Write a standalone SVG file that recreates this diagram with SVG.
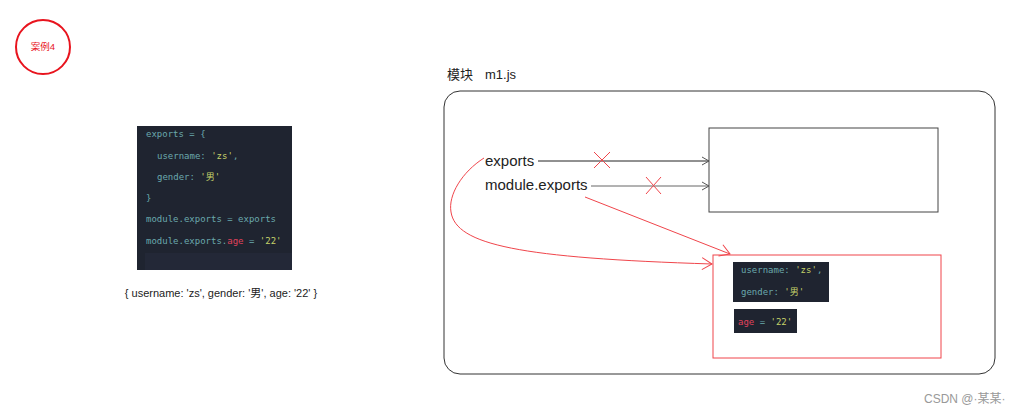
<svg xmlns="http://www.w3.org/2000/svg" width="1024" height="415" viewBox="0 0 1024 415">
<style>
.sans{font-family:"Microsoft YaHei","Liberation Sans","Noto Sans CJK SC",sans-serif}
.code{font-family:"DejaVu Sans Mono","Liberation Mono","Noto Sans CJK SC",monospace;font-size:9px;fill:#6aa9ad}
.str{fill:#c5d36a}
.kw{fill:#e0425c}
.red{stroke:#f0454b;fill:none;stroke-width:1}
</style>
<defs>
<marker id="ah" markerWidth="10" markerHeight="10" refX="9" refY="5" orient="auto" markerUnits="userSpaceOnUse">
<path d="M2,1 L9,5 L2,9" fill="none" stroke="#555" stroke-width="1"/>
</marker>
<marker id="ahr" markerWidth="14" markerHeight="14" refX="12" refY="7" orient="auto" markerUnits="userSpaceOnUse">
<path d="M2,1 L12,7 L2,13" fill="none" stroke="#f0454b" stroke-width="1"/>
</marker>
</defs>
<rect width="1024" height="415" fill="#fff"/>
<g id="badge">
<circle cx="43" cy="47" r="27" fill="none" stroke="#e8141e" stroke-width="2"/>
<text x="43" y="50" text-anchor="middle" class="sans" font-size="9.5" fill="#e8141e">案例4</text>
</g>
<g id="code">
<rect x="137" y="126" width="155" height="144" fill="#1f2430"/>
<rect x="145" y="253" width="147" height="17" fill="#232837"/>
<text class="code" x="146" y="137">exports = {</text>
<text class="code" x="157" y="159">username: <tspan class="str">'zs'</tspan>,</text>
<text class="code" x="157" y="180">gender: <tspan class="str">'男'</tspan></text>
<text class="code" x="146" y="201">}</text>
<text class="code" x="146" y="222">module.exports = exports</text>
<text class="code" x="146" y="244">module.exports.<tspan class="kw">age</tspan> = <tspan class="str">'22'</tspan></text>
</g>
<g id="caption">
<text x="221" y="297" text-anchor="middle" class="sans" font-size="11" fill="#222">{ username: 'zs', gender: '男', age: '22' }</text>
</g>
<g id="module-title">
<text x="447" y="79" class="sans" font-size="13" fill="#222">模块<tspan x="485">m1.js</tspan></text>
</g>
<g id="module">
<rect x="444" y="91" width="551" height="283" rx="16" fill="none" stroke="#333" stroke-width="1"/>
</g>
<g id="object1">
<rect x="709" y="128" width="229" height="84" fill="#fff" stroke="#444" stroke-width="1"/>
</g>
<g id="exports">
<text x="485" y="166" class="sans" font-size="15" fill="#222">exports</text>
</g>
<g id="module-exports">
<text x="485" y="190" class="sans" font-size="15" fill="#222">module.exports</text>
</g>
<g id="object2">
<rect x="713" y="255" width="228" height="103" fill="#fff" stroke="#f0454b" stroke-width="1"/>
<rect x="733" y="262" width="96" height="40" fill="#1f2430"/>
<text class="code" x="741" y="273">username: <tspan class="str">'zs'</tspan>,</text>
<text class="code" x="741" y="295">gender: <tspan class="str">'男'</tspan></text>
<rect x="734" y="309" width="63" height="24" fill="#1f2430"/>
<text class="code" x="738" y="325"><tspan class="kw">age</tspan> = <tspan class="str">'22'</tspan></text>
</g>
<g id="connectors">
<line x1="538" y1="161" x2="709" y2="161" stroke="#222" stroke-width="1" marker-end="url(#ah)"/>
<line x1="591" y1="186" x2="709" y2="186" stroke="#666" stroke-width="1" marker-end="url(#ah)"/>
<path class="red" d="M484,158 C462,172 448,195 451,212 C456,245 520,258 712,264" marker-end="url(#ahr)"/>
<line class="red" x1="585" y1="197" x2="730" y2="254" marker-end="url(#ahr)"/>
<path class="red" d="M594,152 L610,168 M610,152 L594,168"/>
<path class="red" d="M646,177 L661,194 M661,177 L646,194"/>
</g>
<g id="watermark">
<text x="924" y="403" class="sans" font-size="12" fill="#999">CSDN @·某某·</text>
</g>
</svg>
